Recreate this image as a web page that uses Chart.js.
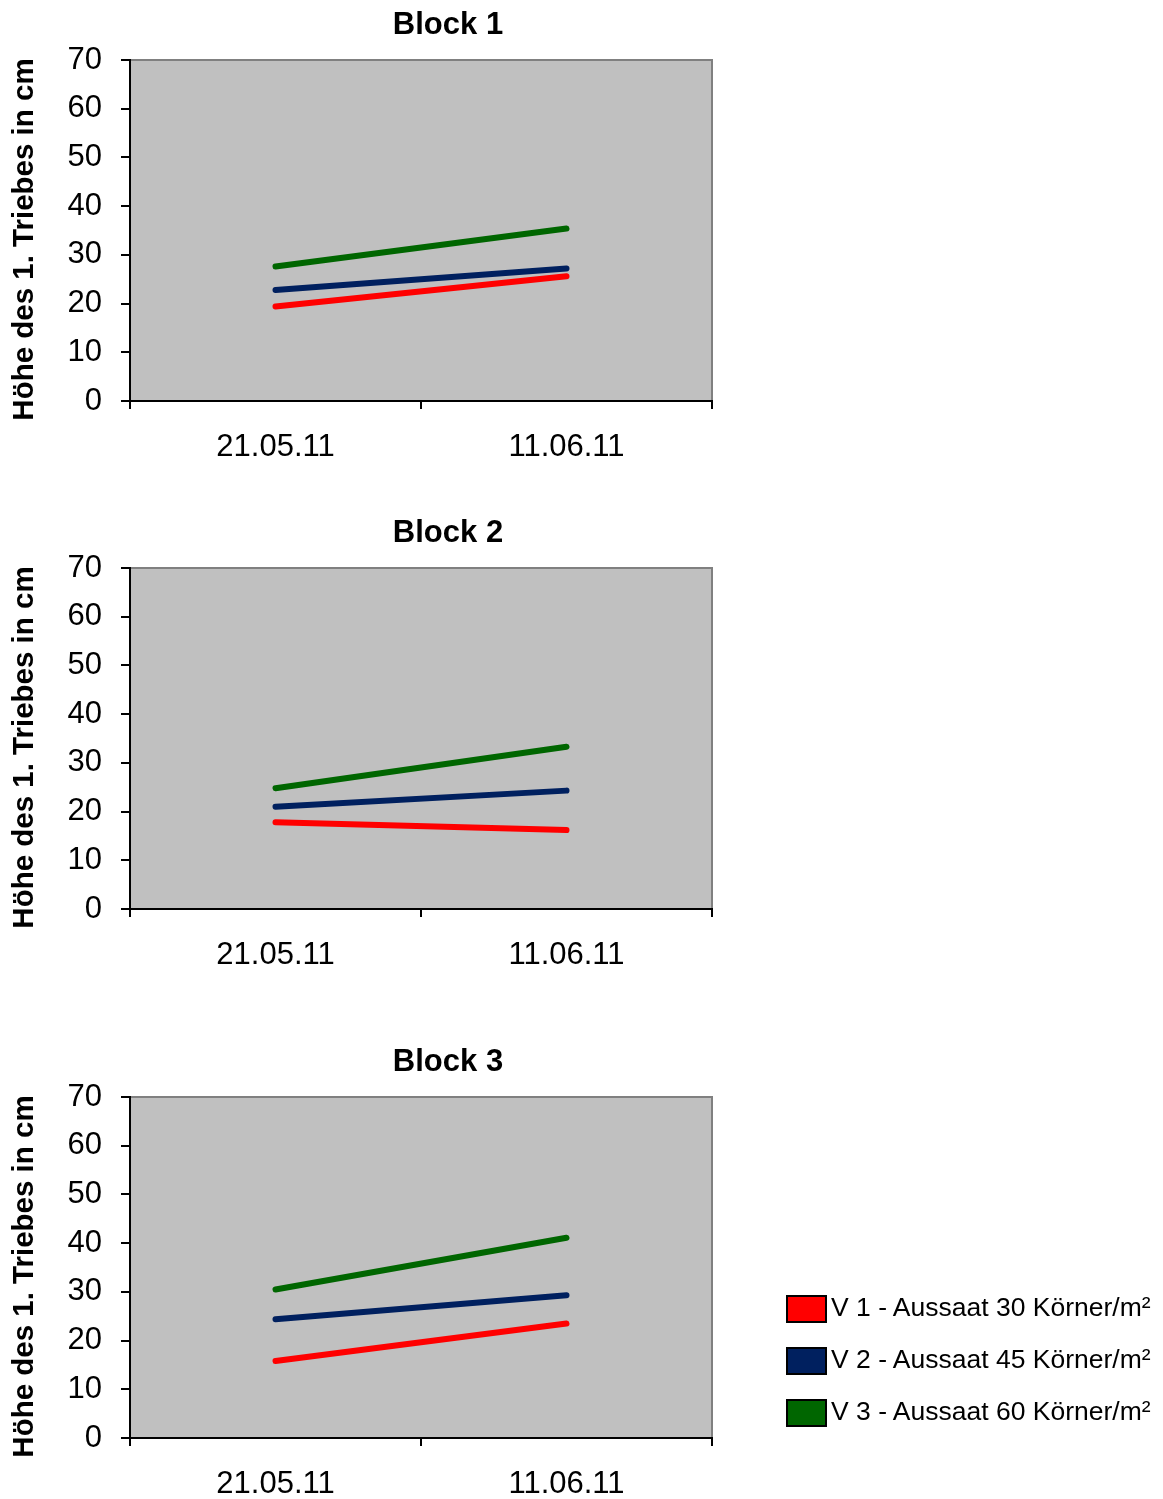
<!DOCTYPE html>
<html>
<head>
<meta charset="utf-8">
<script src="https://cdn.jsdelivr.net/npm/chart.js@4.4.1/dist/chart.umd.min.js"></script>
<style>
  html, body { margin: 0; padding: 0; background: #ffffff; }
  body { width: 1163px; height: 1499px; position: relative; overflow: hidden; font-family: "Liberation Sans", Arial, sans-serif; }
  canvas { position: absolute; left: 0; }
  #legend { position: absolute; left: 786px; top: 1295px; }
  .item { position: absolute; left: 0; white-space: nowrap; height: 28px; }
  .box { position: absolute; left: 0; top: 0; width: 37px; height: 24px; border: 2px solid #000; }
  .lbl { position: absolute; left: 45px; top: -3px; font-size: 26.5px; color: #000; line-height: 30px; }
</style>
</head>
<body>
<canvas id="c0" width="896" height="462" style="top:0px"></canvas>
<canvas id="c1" width="896" height="462" style="top:508px"></canvas>
<canvas id="c2" width="896" height="462" style="top:1037px"></canvas>
<div id="legend"></div>
<script>
// ---- data ----
const categories = ['21.05.11', '11.06.11'];
const blockTitles = ['Block 1', 'Block 2', 'Block 3'];
const seriesNames = ['V 1 - Aussaat 30 Körner/m²', 'V 2 - Aussaat 45 Körner/m²', 'V 3 - Aussaat 60 Körner/m²'];
const seriesColors = ['#ff0000', '#00205f', '#006600'];
const v1Values = [[19.4, 25.6], [17.8, 16.2], [15.8, 23.5]];
const v2Values = [[22.8, 27.2], [21.0, 24.3], [24.4, 29.3]];
const v3Values = [[27.6, 35.4], [24.8, 33.3], [30.5, 41.1]];
const yAxisTitle = 'Höhe des 1. Triebes in cm';
const yMin = 0, yMax = 70, yStep = 10;

const FONT = '"Liberation Sans", Arial, sans-serif';

const bgPlugin = {
  id: 'plotBg',
  beforeDraw(chart) {
    const a = chart.chartArea, ctx = chart.ctx;
    ctx.save();
    ctx.fillStyle = '#c0c0c0';
    ctx.fillRect(a.left, a.top, a.right - a.left, a.bottom - a.top);
    ctx.strokeStyle = '#808080';
    ctx.lineWidth = 2;
    ctx.strokeRect(a.left, a.top, a.right - a.left, a.bottom - a.top);
    ctx.restore();
  }
};
const titlePlugin = {
  id: 'blockTitle',
  afterDraw(chart, args, opts) {
    const ctx = chart.ctx;
    const a = chart.chartArea;
    ctx.save();
    ctx.font = 'bold 31px ' + FONT;
    ctx.fillStyle = '#000';
    ctx.textAlign = 'center';
    ctx.textBaseline = 'middle';
    ctx.fillText(opts.text, 448, 25);
    // y-axis title, rotated
    ctx.translate(25, (a.top + a.bottom) / 2 + 9);
    ctx.rotate(-Math.PI / 2);
    ctx.font = 'bold 29.5px ' + FONT;
    ctx.fillText(opts.yTitle, 0, 0);
    ctx.restore();
  }
};

const allSeries = [v1Values, v2Values, v3Values];

blockTitles.forEach((title, b) => {
  const ctx = document.getElementById('c' + b).getContext('2d');
  new Chart(ctx, {
    type: 'line',
    data: {
      labels: categories,
      datasets: allSeries.map((vals, s) => ({
        label: seriesNames[s],
        data: vals[b],
        borderColor: seriesColors[s],
        backgroundColor: seriesColors[s],
        borderWidth: 6,
        borderCapStyle: 'round',
        pointRadius: 0,
        tension: 0
      }))
    },
    options: {
      responsive: false,
      animation: false,
      devicePixelRatio: 1,
      layout: { padding: { top: 60, right: 184, left: 0, bottom: 0 } },
      plugins: {
        legend: { display: false },
        tooltip: { enabled: false },
        blockTitle: { text: title, yTitle: yAxisTitle }
      },
      scales: {
        x: {
          type: 'category',
          offset: true,
          grid: { offset: true, drawOnChartArea: false, color: '#000', lineWidth: 2, tickLength: 8 },
          border: { color: '#000', width: 2 },
          ticks: { color: '#000', font: { family: FONT, size: 31 }, padding: 20, maxRotation: 0 },
          afterFit(scale) { scale.height = 61; }
        },
        y: {
          min: yMin, max: yMax,
          ticks: { stepSize: yStep, color: '#000', font: { family: FONT, size: 31 }, padding: 19 },
          grid: { drawOnChartArea: false, color: '#000', lineWidth: 2, tickLength: 9 },
          border: { color: '#000', width: 2 },
          title: { display: false },
          afterFit(scale) { scale.width = 130; }
        }
      }
    },
    plugins: [bgPlugin, titlePlugin]
  });
});

// legend (HTML)
const legend = document.getElementById('legend');
seriesNames.forEach((name, i) => {
  const item = document.createElement('div');
  item.className = 'item';
  item.style.top = (i * 52) + 'px';
  const box = document.createElement('div');
  box.className = 'box';
  box.style.background = seriesColors[i];
  const lbl = document.createElement('div');
  lbl.className = 'lbl';
  lbl.textContent = name;
  item.appendChild(box);
  item.appendChild(lbl);
  legend.appendChild(item);
});
</script>
</body>
</html>
